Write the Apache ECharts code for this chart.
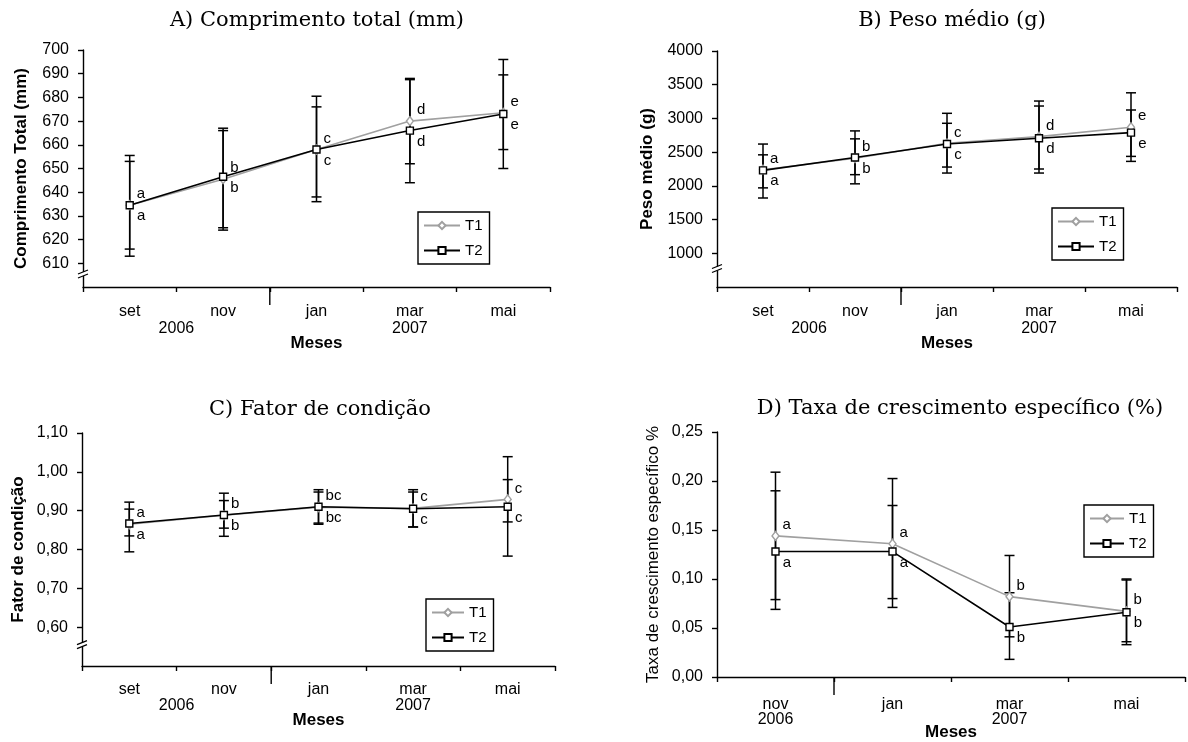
<!DOCTYPE html>
<html>
<head>
<meta charset="utf-8">
<script src="https://cdn.jsdelivr.net/npm/echarts@6/dist/echarts.min.js"></script>
<style>
  html, body { margin: 0; padding: 0; background: #fff; }
  #main { width: 1188px; height: 742px; }
</style>
</head>
<body>
<div id="main"></div>
<script>
// meses
const mesesABC = ['set', 'nov', 'jan', 'mar', 'mai']
const mesesD = ['nov', 'jan', 'mar', 'mai']
const anos = ['2006', '2007']
const anosPosABC = [1, 3.5]
const anosPosD = [0.5, 2.5]

// A) Comprimento total (mm)
const compT1 = [634.5, 645.5, 658, 670, 673.5]
const compT2 = [634.5, 646.5, 658, 666, 673]
const compT1Lo = [616, 625, 638, 652, 658]
const compT1Hi = [653, 666, 676, 688, 689.5]
const compT2Lo = [613, 624, 636, 644, 650]
const compT2Hi = [655.5, 667, 680.5, 687.5, 696]
const letrasA = ['a', 'b', 'c', 'd', 'e']

// B) Peso medio (g)
const pesoT1 = [2240, 2410, 2630, 2730, 2870]
const pesoT2 = [2230, 2420, 2620, 2705, 2790]
const pesoT1Lo = [1820, 2030, 2190, 2190, 2363]
const pesoT1Hi = [2620, 2815, 3076, 3258, 3380]
const pesoT2Lo = [1970, 2166, 2279, 2250, 2437]
const pesoT2Hi = [2460, 2697, 2928, 3184, 3125]
const letrasB = ['a', 'b', 'c', 'd', 'e']

// C) Fator de condicao
const fatorT1 = [0.865, 0.888, 0.909, 0.906, 0.929]
const fatorT2 = [0.867, 0.889, 0.910, 0.905, 0.910]
const fatorT1Lo = [0.835, 0.855, 0.868, 0.858, 0.871]
const fatorT1Hi = [0.904, 0.926, 0.948, 0.948, 0.980]
const fatorT2Lo = [0.794, 0.834, 0.865, 0.858, 0.783]
const fatorT2Hi = [0.922, 0.945, 0.954, 0.954, 1.039]
const letrasC = ['a', 'b', 'bc', 'c', 'c']

// D) Taxa de crescimento especifico (%)
const taxaT1 = [0.144, 0.136, 0.082, 0.067]
const taxaT2 = [0.128, 0.128, 0.051, 0.066]
const taxaT1Lo = [0.069, 0.071, 0.018, 0.033]
const taxaT1Hi = [0.209, 0.2025, 0.124, 0.100]
const taxaT2Lo = [0.079, 0.080, 0.041, 0.036]
const taxaT2Hi = [0.190, 0.175, 0.086, 0.099]
const letrasD = ['a', 'a', 'b', 'b']

const FONT = "'Liberation Sans', Arial, sans-serif"
const NARROW = "'Liberation Sans Narrow', 'Liberation Sans', Arial, sans-serif"
const SERIF = "'DejaVu Serif', 'Liberation Serif', serif"

var panels = [
  {
    title: 'A) Comprimento total (mm)', titleX: 312, titleY: 5,
    grid: { left: 83, top: 50, width: 467, height: 237 },
    cats: mesesABC, anosPos: anosPosABC, split: 1, xm: [17, 34, 48],
    y: { min: 600, max: 700, interval: 10, name: 'Comprimento Total (mm)', gap: 53, bold: true, dec: 0 },
    t1: compT1, t2: compT2, e1: [compT1Lo, compT1Hi], e2: [compT2Lo, compT2Hi], letras: letrasA,
    legend: { left: 418, top: 212, iw: 36 }, brk: true
  },
  {
    title: 'B) Peso médio (g)', titleX: 947, titleY: 5,
    grid: { left: 717, top: 51, width: 460, height: 236 },
    cats: mesesABC, anosPos: anosPosABC, split: 1, xm: [17, 34, 48],
    y: { min: 500, max: 4000, interval: 500, name: 'Peso médio (g)', gap: 61, bold: true, dec: 0 },
    t1: pesoT1, t2: pesoT2, e1: [pesoT1Lo, pesoT1Hi], e2: [pesoT2Lo, pesoT2Hi], letras: letrasB,
    legend: { left: 1052, top: 208, iw: 36 }, brk: true
  },
  {
    title: 'C) Fator de condição', titleX: 315, titleY: 394,
    grid: { left: 82, top: 433, width: 473, height: 233 },
    cats: mesesABC, anosPos: anosPosABC, split: 1, xm: [16, 32, 46],
    y: { min: 0.5, max: 1.1, interval: 0.1, name: 'Fator de condição', gap: 55, bold: true, dec: 2 },
    t1: fatorT1, t2: fatorT2, e1: [fatorT1Lo, fatorT1Hi], e2: [fatorT2Lo, fatorT2Hi], letras: letrasC,
    legend: { left: 426, top: 599, iw: 32 }, brk: true
  },
  {
    title: 'D) Taxa de crescimento específico (%)', titleX: 955, titleY: 393,
    grid: { left: 717, top: 432, width: 470, height: 245 },
    cats: mesesD, anosPos: anosPosD, split: 0, xm: [20, 35, 47],
    y: { min: 0, max: 0.25, interval: 0.05, name: 'Taxa de crescimento específico %', gap: 55, bold: false, dec: 2 },
    t1: taxaT1, t2: taxaT2, e1: [taxaT1Lo, taxaT1Hi], e2: [taxaT2Lo, taxaT2Hi], letras: letrasD,
    legend: { left: 1084, top: 505, iw: 34 }, brk: false
  }
]

function errSeries(gi, lo, hi) {
  return {
    type: 'custom',
    xAxisIndex: gi * 2,
    yAxisIndex: gi,
    z: 1,
    silent: true,
    data: lo.map((l, i) => [i, l, hi[i]]),
    encode: { x: 0, y: [1, 2] },
    renderItem: function (params, api) {
      var x = api.value(0)
      var top = api.coord([x, api.value(2)])
      var bot = api.coord([x, api.value(1)])
      var w = 5
      var st = { stroke: '#000', lineWidth: 1.5 }
      return {
        type: 'group',
        children: [
          { type: 'line', shape: { x1: top[0], y1: top[1], x2: bot[0], y2: bot[1] }, style: st },
          { type: 'line', shape: { x1: top[0] - w, y1: top[1], x2: top[0] + w, y2: top[1] }, style: st },
          { type: 'line', shape: { x1: bot[0] - w, y1: bot[1], x2: bot[0] + w, y2: bot[1] }, style: st }
        ]
      }
    }
  }
}

function lineSeries(gi, name, values, letras, dark) {
  var color = dark ? '#000' : '#a0a0a0'
  return {
    name: name,
    type: 'line',
    xAxisIndex: gi * 2,
    yAxisIndex: gi,
    z: dark ? 4 : 3,
    data: values,
    symbol: dark ? 'rect' : 'diamond',
    symbolSize: dark ? 7 : [7, 9],
    showAllSymbol: true,
    lineStyle: { color: color, width: 1.6 },
    itemStyle: { color: '#fff', borderColor: color, borderWidth: 1.4 },
    label: {
      show: true,
      position: 'right',
      distance: 3,
      offset: [0, dark ? 11 : -11],
      formatter: (p) => letras[p.dataIndex],
      color: '#000',
      fontFamily: FONT,
      fontSize: 15
    },
    emphasis: { disabled: true }
  }
}

var option = {
  backgroundColor: '#fff',
  animation: false,
  title: [],
  legend: [],
  grid: [],
  xAxis: [],
  yAxis: [],
  series: []
}

panels.forEach((p, gi) => {
  option.title.push({
    text: p.title,
    left: p.titleX,
    top: p.titleY,
    textAlign: 'center',
    textStyle: { fontFamily: SERIF, fontSize: 21, fontWeight: 'normal', color: '#000' }
  })
  option.grid.push(Object.assign({ containLabel: false }, p.grid))
  option.xAxis.push({
    type: 'category',
    gridIndex: gi,
    data: p.cats,
    boundaryGap: true,
    axisLine: { lineStyle: { color: '#000', width: 1.4 } },
    axisTick: { show: true, length: 5, lineStyle: { color: '#000', width: 1.4 } },
    axisLabel: { margin: p.xm[0], color: '#000', fontFamily: FONT, fontSize: 16 },
    splitLine: { show: false },
    name: 'Meses',
    nameLocation: 'middle',
    nameGap: p.xm[2],
    nameTextStyle: { color: '#000', fontFamily: FONT, fontSize: 17, fontWeight: 'bold' }
  })
  option.xAxis.push({
    type: 'value',
    gridIndex: gi,
    position: 'bottom',
    min: 0,
    max: p.cats.length,
    interval: 0.5,
    axisLine: { show: false },
    axisTick: { show: false },
    splitLine: { show: false },
    axisLabel: {
      margin: p.xm[1],
      color: '#000',
      fontFamily: NARROW,
      fontSize: 16,
      formatter: (v) => {
        var k = p.anosPos.findIndex((a) => Math.abs(a - v) < 1e-6)
        return k >= 0 ? anos[k] : ''
      }
    }
  })
  option.yAxis.push({
    type: 'value',
    gridIndex: gi,
    min: p.y.min,
    max: p.y.max,
    interval: p.y.interval,
    axisLine: { show: true, lineStyle: { color: '#000', width: 1.4 } },
    axisTick: { show: true, length: 5, lineStyle: { color: '#000', width: 1.4 } },
    splitLine: { show: false },
    axisLabel: {
      showMinLabel: !p.brk,
      color: '#000',
      fontFamily: FONT,
      fontSize: 16,
      margin: 14,
      formatter: (v) => v.toFixed(p.y.dec).replace('.', ',')
    },
    name: p.y.name,
    nameLocation: 'middle',
    nameGap: p.y.gap,
    nameTextStyle: {
      color: '#000',
      fontFamily: FONT,
      fontSize: 17,
      fontWeight: p.y.bold ? 'bold' : 'normal'
    }
  })
  option.legend.push({
    data: ['T1', 'T2'],
    orient: 'vertical',
    left: p.legend.left,
    top: p.legend.top,
    itemWidth: p.legend.iw,
    itemHeight: 9,
    itemGap: 10,
    padding: [6, 7, 6, 5],
    borderColor: '#000',
    borderWidth: 1.4,
    borderRadius: 0,
    backgroundColor: '#fff',
    selectedMode: false,
    textStyle: { color: '#000', fontFamily: FONT, fontSize: 15 }
  })
  option.series.push(errSeries(gi, p.e1[0], p.e1[1]))
  option.series.push(errSeries(gi, p.e2[0], p.e2[1]))
  option.series.push(lineSeries(gi, 'T1', p.t1, p.letras, false))
  option.series.push(lineSeries(gi, 'T2', p.t2, p.letras, true))
})

var myChart = echarts.init(document.getElementById('main'), null, { renderer: 'canvas' })
myChart.setOption(option)

// quebra do eixo y e marca longa entre os anos
var graphic = []
panels.forEach((p, gi) => {
  var x0 = myChart.convertToPixel({ xAxisIndex: gi * 2 }, p.split)
  var x1 = myChart.convertToPixel({ xAxisIndex: gi * 2 }, p.split + 1)
  var yBase = p.grid.top + p.grid.height
  var xs = (x0 + x1) / 2
  graphic.push({
    type: 'line',
    shape: { x1: xs, y1: yBase, x2: xs, y2: yBase + 18 },
    style: { stroke: '#000', lineWidth: 1.4 }
  })
  if (p.brk) {
    var yb = myChart.convertToPixel({ yAxisIndex: gi }, p.y.min + p.y.interval * 0.55)
    var xa = p.grid.left
    graphic.push({
      type: 'rect',
      shape: { x: xa - 2, y: yb - 2, width: 4, height: 4 },
      style: { fill: '#fff' },
      z: 10
    })
    graphic.push({
      type: 'line',
      shape: { x1: xa - 5, y1: yb, x2: xa + 5, y2: yb - 4 },
      style: { stroke: '#000', lineWidth: 1.2 },
      z: 11
    })
    graphic.push({
      type: 'line',
      shape: { x1: xa - 5, y1: yb + 4, x2: xa + 5, y2: yb },
      style: { stroke: '#000', lineWidth: 1.2 },
      z: 11
    })
  }
})
myChart.setOption({ graphic: graphic })
</script>
</body>
</html>
